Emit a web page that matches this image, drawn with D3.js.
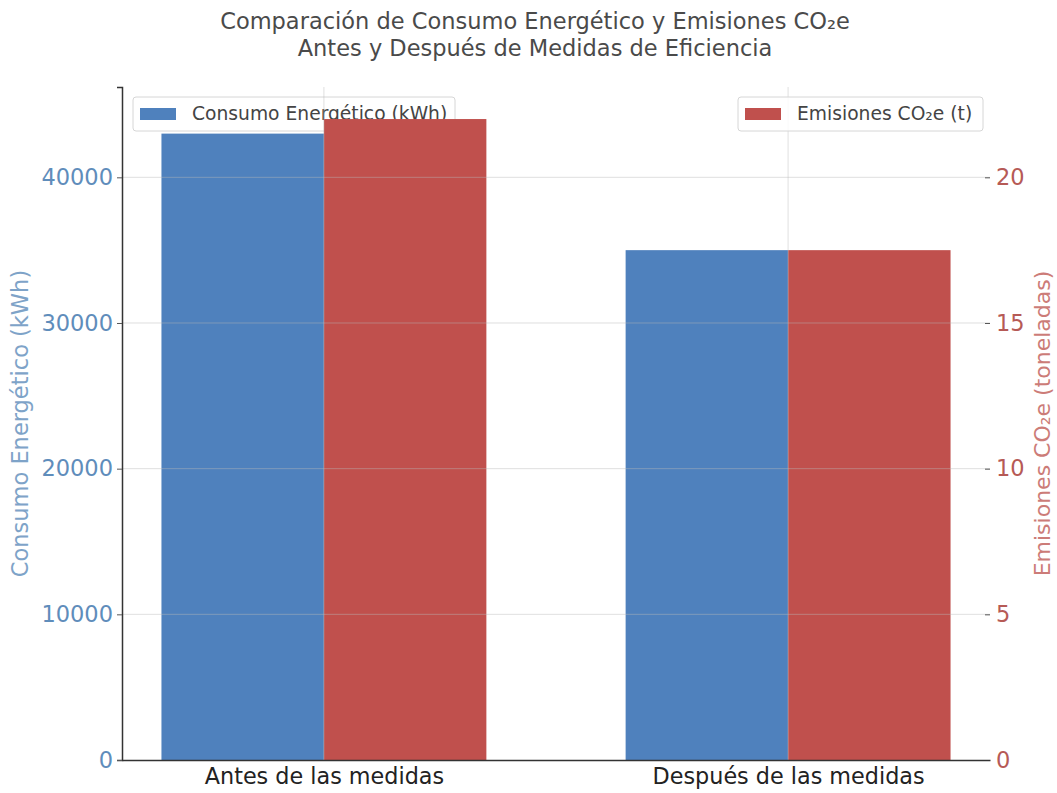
<!DOCTYPE html>
<html>
<head>
<meta charset="utf-8">
<script src="https://cdn.jsdelivr.net/npm/d3@7"></script>
<style>
  html, body { margin: 0; padding: 0; background: #fff; }
  svg { display: block; font-family: "DejaVu Sans", sans-serif; }
</style>
</head>
<body>
<svg id="chart" width="1057" height="793"></svg>
<script>
// Data
const categories = ["Antes de las medidas", "Después de las medidas"];
const energyKWh = [43000, 35000];
const emissionsT = [22, 17.5];
const energyTicks = [0, 10000, 20000, 30000, 40000];
const emissionsTicks = [0, 5, 10, 15, 20];

const titleLines = [
  "Comparación de Consumo Energético y Emisiones CO₂e",
  "Antes y Después de Medidas de Eficiencia"
];

const colBlue = "#4f81bd";
const colRed = "#c0504d";
const colBlueText = "#5f8dbb";
const colRedText = "#b65a56";

const svg = d3.select("#chart");
const plotLeft = 122, plotRight = 990, plotTop = 87, plotBottom = 760;

// x: continuous positions for categories with margins like a bar plot
const barW = 0.35;
const x = d3.scaleLinear().domain([-0.435, categories.length - 1 + 0.435]).range([plotLeft, plotRight]);
const yL = d3.scaleLinear().domain([0, 46200]).range([plotBottom, plotTop]);
const yR = d3.scaleLinear().domain([0, 23.1]).range([plotBottom, plotTop]);

// Title
svg.append("g").selectAll("text").data(titleLines).join("text")
  .attr("x", 535).attr("y", (d, i) => 29 + i * 27)
  .attr("text-anchor", "middle").attr("font-size", 22.5).attr("fill", "#4a4a4a")
  .text(d => d);

// Blue bars (energy)
svg.append("g").selectAll("rect").data(energyKWh).join("rect")
  .attr("x", (d, i) => x(i - barW)).attr("width", (d, i) => x(i) - x(i - barW))
  .attr("y", d => yL(d)).attr("height", d => yL(0) - yL(d))
  .attr("fill", colBlue);

// Legend helper
function legend(x0, y0, w, h, color, label) {
  const g = svg.append("g");
  g.append("rect").attr("x", x0).attr("y", y0).attr("width", w).attr("height", h)
    .attr("rx", 3).attr("fill", "#fff").attr("fill-opacity", 0.8)
    .attr("stroke", "#d6d6d6").attr("stroke-width", 1);
  g.append("rect").attr("x", x0 + 7).attr("y", y0 + 11).attr("width", 36).attr("height", 12)
    .attr("fill", color);
  g.append("text").attr("x", x0 + 59).attr("y", y0 + 23)
    .attr("font-size", 18.7).attr("fill", "#444").text(label);
}
legend(133, 97, 322, 34, colBlue, "Consumo Energético (kWh)");

// Red bars (emissions)
svg.append("g").selectAll("rect").data(emissionsT).join("rect")
  .attr("x", (d, i) => x(i)).attr("width", (d, i) => x(i + barW) - x(i))
  .attr("y", d => yR(d)).attr("height", d => yR(0) - yR(d))
  .attr("fill", colRed);

// Grid lines
const grid = svg.append("g").attr("stroke", "#b8b8b8").attr("stroke-opacity", 0.45).attr("stroke-width", 1);
grid.selectAll("line.h").data(emissionsTicks.filter(d => d > 0)).join("line").attr("class", "h")
  .attr("x1", plotLeft).attr("x2", plotRight).attr("y1", d => yR(d)).attr("y2", d => yR(d));
grid.selectAll("line.v").data(categories).join("line").attr("class", "v")
  .attr("x1", (d, i) => x(i)).attr("x2", (d, i) => x(i)).attr("y1", plotTop).attr("y2", plotBottom);

legend(738, 97, 245, 34, colRed, "Emisiones CO₂e (t)");

// Left axis
const axL = svg.append("g").attr("transform", `translate(${plotLeft},0)`)
  .call(d3.axisLeft(yL).tickValues(energyTicks).tickFormat(d3.format("d")).tickSize(5).tickPadding(4));
axL.select(".domain").attr("stroke", "#333").attr("stroke-width", 1.5);
axL.selectAll(".tick line").attr("stroke", "#555");
axL.selectAll(".tick text").attr("font-size", 22.5).attr("fill", colBlueText).attr("font-family", "DejaVu Sans");

// Right axis (no spine)
const axR = svg.append("g").attr("transform", `translate(${plotRight - 5},0)`)
  .call(d3.axisRight(yR).tickValues(emissionsTicks).tickSize(5).tickPadding(6));
axR.select(".domain").remove();
axR.selectAll(".tick line").attr("stroke", "#555");
axR.selectAll(".tick text").attr("font-size", 22.5).attr("fill", colRedText).attr("font-family", "DejaVu Sans");

// Bottom axis
const axB = svg.append("g").attr("transform", `translate(0,${plotBottom})`)
  .call(d3.axisBottom(x).tickValues(d3.range(categories.length)).tickFormat(i => categories[i]).tickSize(0).tickPadding(8));
axB.select(".domain").attr("stroke", "#333").attr("stroke-width", 1.5);
axB.selectAll(".tick text").attr("font-size", 22.3).attr("fill", "#222").attr("font-family", "DejaVu Sans");

// Axis titles
svg.append("text").attr("transform", `translate(28,${(plotTop + plotBottom) / 2}) rotate(-90)`)
  .attr("text-anchor", "middle").attr("font-size", 22.5).attr("fill", "#7ea3c8")
  .text("Consumo Energético (kWh)");
svg.append("text").attr("transform", `translate(1050,${(plotTop + plotBottom) / 2}) rotate(-90)`)
  .attr("text-anchor", "middle").attr("font-size", 22).attr("fill", "#cc7c78")
  .text("Emisiones CO₂e (toneladas)");
</script>
</body>
</html>
